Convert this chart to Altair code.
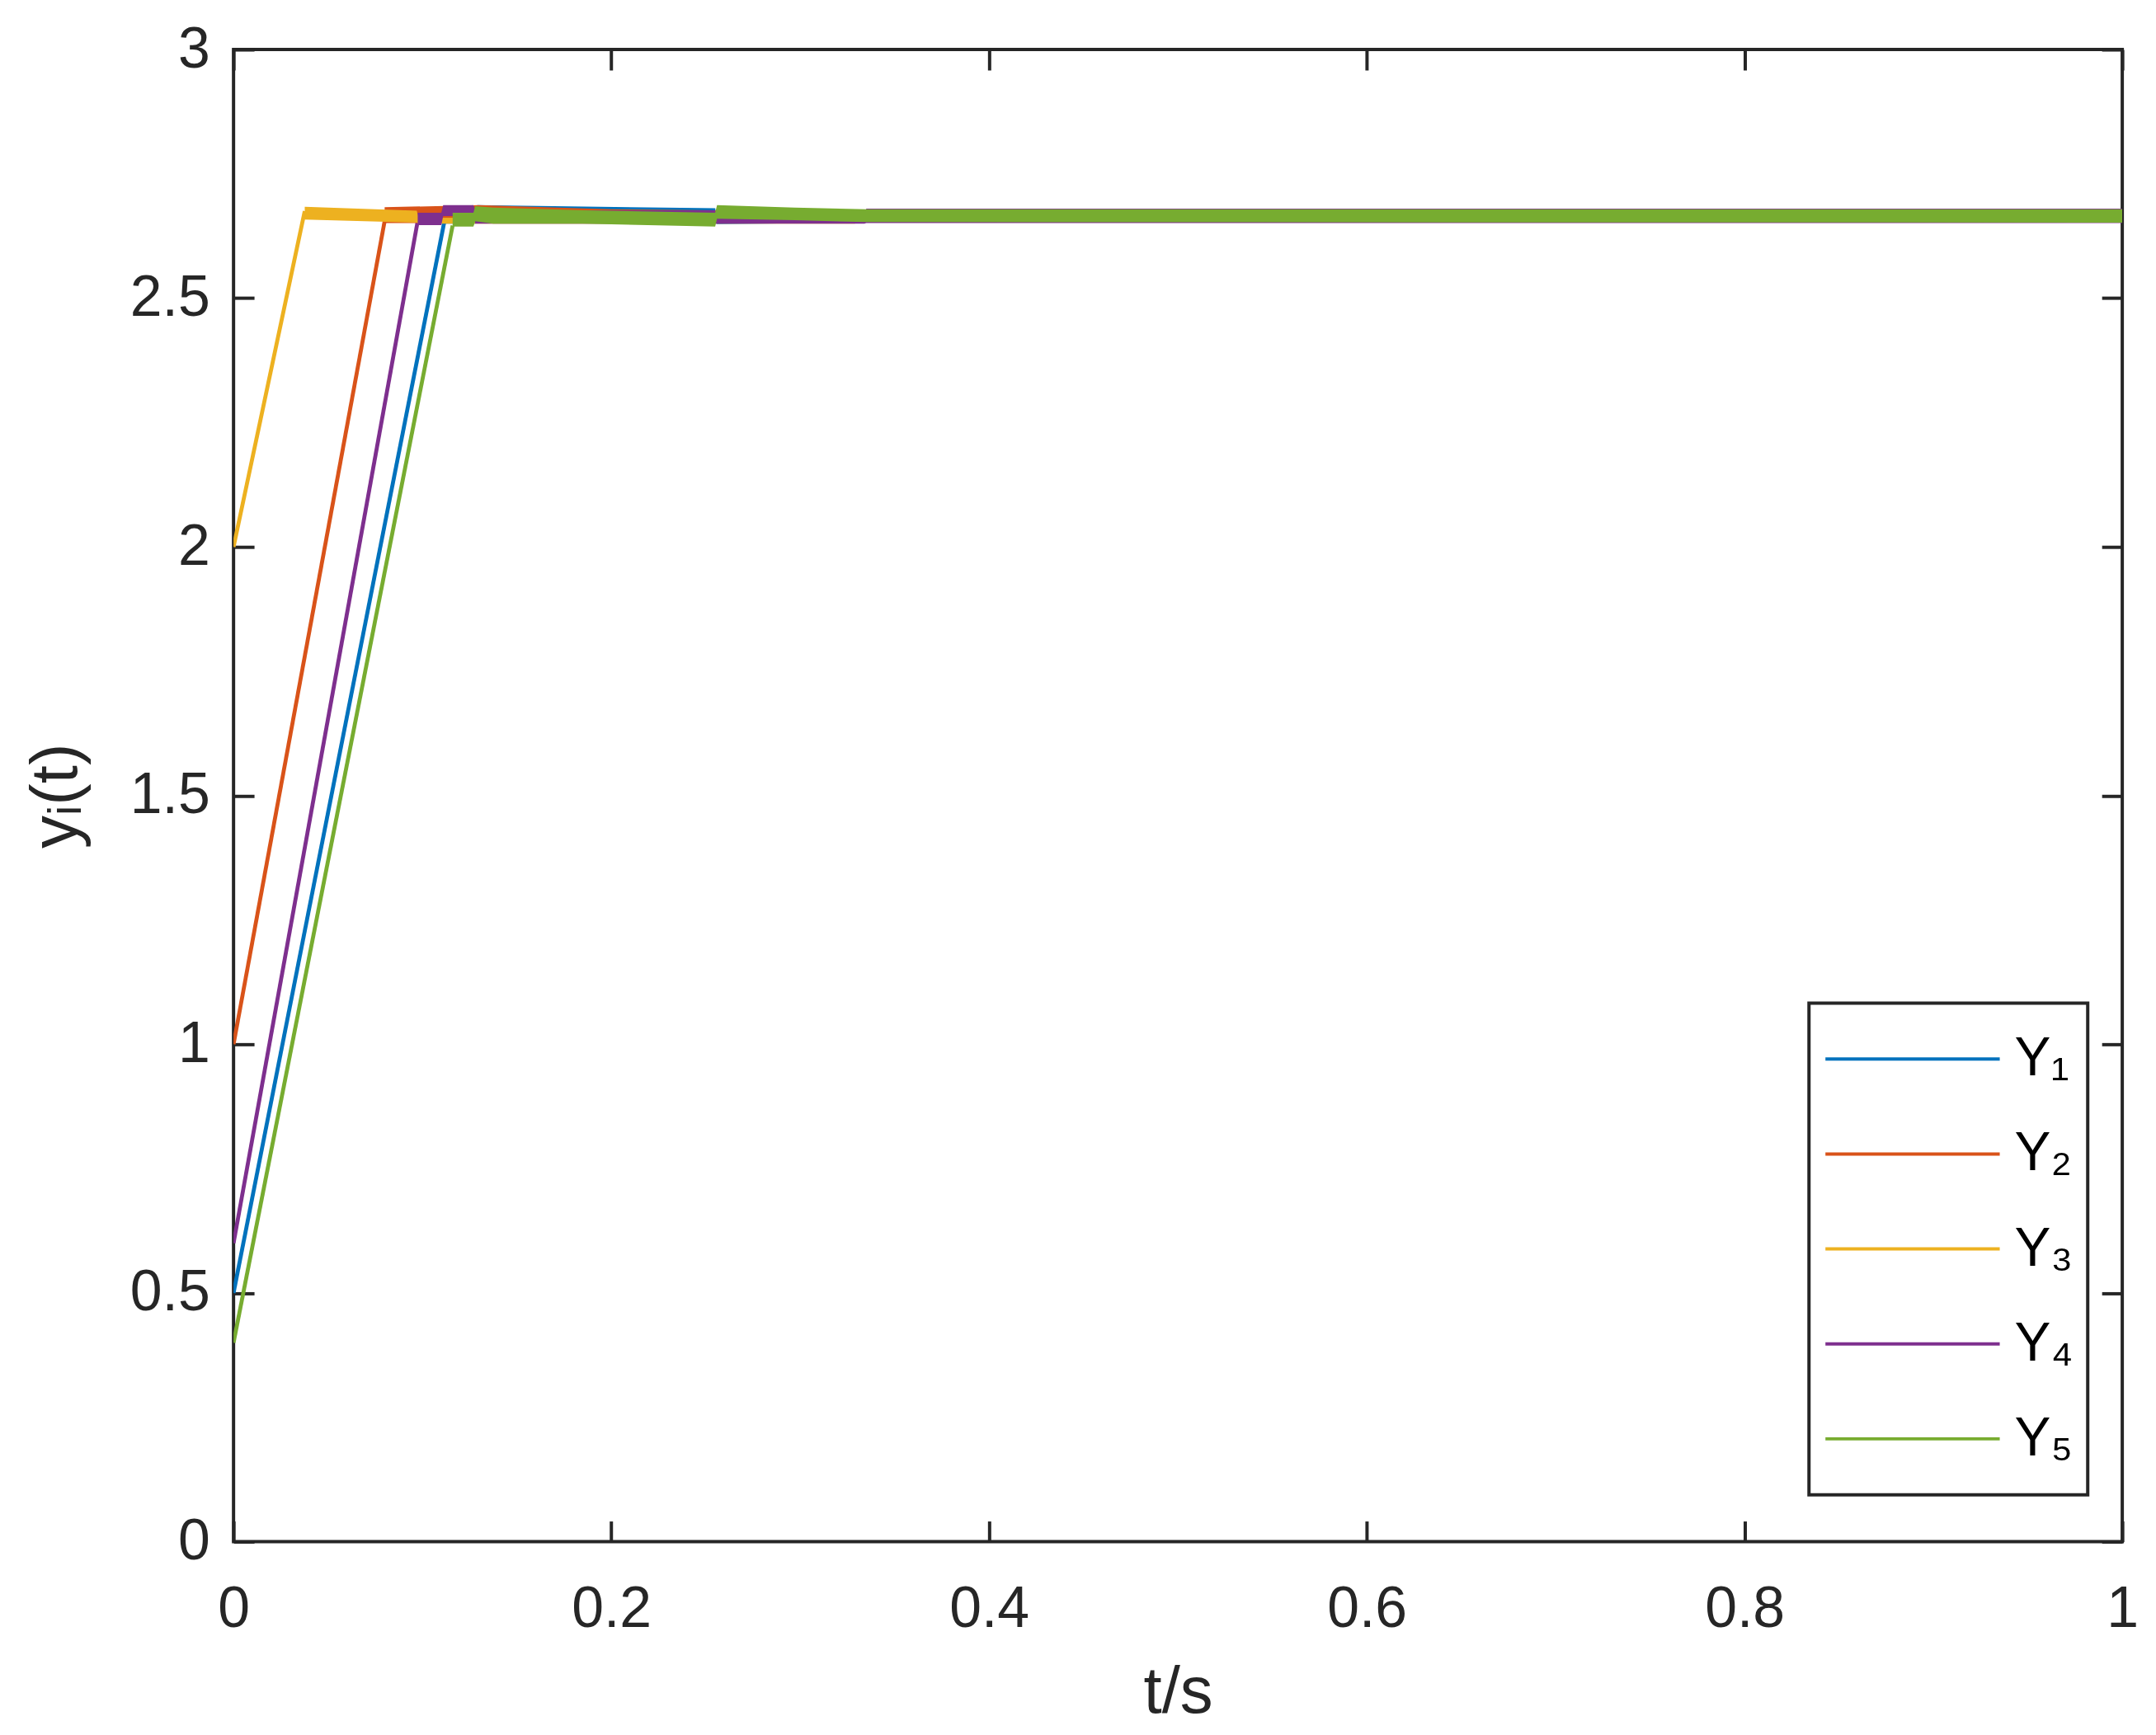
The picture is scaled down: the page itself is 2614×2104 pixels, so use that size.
import altair as alt
import pandas as pd

# ---------------- data ----------------
series_names = ["Y\u2081", "Y\u2082", "Y\u2083", "Y\u2084", "Y\u2085"]
series_colors = ["#0072BD", "#D95319", "#EDB120", "#7E2F8E", "#77AC30"]

# linear rise from the initial value to the consensus band
start_t = [0.0, 0.0, 0.0, 0.0, 0.0]
start_y = [0.50, 1.00, 2.00, 0.60, 0.40]
reach_t = [0.1115, 0.080, 0.0377, 0.0975, 0.116]
reach_y = [2.652, 2.655, 2.675, 2.655, 2.646]

# chattering band (lower / upper envelope) after reaching consensus
y1_band_t = [0.1115, 0.128, 0.129, 0.255, 0.256, 0.335, 1.0]
y1_band_lo = [2.650, 2.650, 2.651, 2.651, 2.649, 2.652, 2.652]
y1_band_hi = [2.660, 2.660, 2.687, 2.681, 2.662, 2.678, 2.678]

y2_band_t = [0.080, 0.130, 0.200, 0.255, 0.256, 1.0]
y2_band_lo = [2.651, 2.651, 2.651, 2.651, 2.652, 2.652]
y2_band_hi = [2.683, 2.687, 2.679, 2.677, 2.675, 2.675]

y3_band_t = [0.0377, 0.097, 0.098, 0.329, 0.330, 1.0]
y3_band_lo = [2.658, 2.652, 2.650, 2.650, 2.652, 2.652]
y3_band_hi = [2.684, 2.676, 2.662, 2.660, 2.678, 2.678]

y4_band_t = [0.0975, 0.110, 0.111, 0.127, 0.128, 0.255, 0.256, 0.334, 0.335, 1.0]
y4_band_lo = [2.647, 2.647, 2.665, 2.665, 2.650, 2.650, 2.650, 2.650, 2.651, 2.651]
y4_band_hi = [2.672, 2.672, 2.687, 2.687, 2.677, 2.677, 2.663, 2.663, 2.680, 2.680]

y5_band_t = [0.116, 0.127, 0.128, 0.1376, 0.185, 0.255, 0.256, 0.297, 0.335, 1.0]
y5_band_lo = [2.644, 2.644, 2.655, 2.650, 2.650, 2.644, 2.660, 2.657, 2.653, 2.652]
y5_band_hi = [2.672, 2.672, 2.685, 2.682, 2.677, 2.672, 2.687, 2.682, 2.679, 2.679]

x_ticks = [0, 0.2, 0.4, 0.6, 0.8, 1.0]
y_ticks = [0, 0.5, 1, 1.5, 2, 2.5, 3]

# ---------------- tables ----------------
ramp_rows = []
for i, name in enumerate(series_names):
    ramp_rows.append({"series": name, "t": start_t[i], "y": start_y[i]})
    ramp_rows.append({"series": name, "t": reach_t[i], "y": reach_y[i]})
ramp_df = pd.DataFrame(ramp_rows)

band_lists = [
    (y1_band_t, y1_band_lo, y1_band_hi),
    (y2_band_t, y2_band_lo, y2_band_hi),
    (y3_band_t, y3_band_lo, y3_band_hi),
    (y4_band_t, y4_band_lo, y4_band_hi),
    (y5_band_t, y5_band_lo, y5_band_hi),
]
band_rows = []
for name, (ts, los, his) in zip(series_names, band_lists):
    for t, lo, hi in zip(ts, los, his):
        band_rows.append({"series": name, "t": t, "lo": lo, "hi": hi})
band_df = pd.DataFrame(band_rows)

# ---------------- styling ----------------
FONT = "Liberation Sans"
DARK = "#262626"
TICK_LEN = 25

xscale = alt.Scale(domain=[0, 1], nice=False, zero=False)
yscale = alt.Scale(domain=[0, 3], nice=False, zero=False)
cscale = alt.Scale(domain=series_names, range=series_colors)


def tick_axis(orient, values):
    return alt.Axis(orient=orient, values=values, labels=False, domain=False,
                    ticks=True, tickSize=TICK_LEN, tickWidth=4, tickColor=DARK,
                    offset=-TICK_LEN, title=None, grid=False)


main_x_axis = alt.Axis(orient="bottom", values=x_ticks, format="~g", ticks=False,
                       domain=False, grid=False, labelFontSize=70, labelFont=FONT,
                       labelColor=DARK, labelPadding=48, title="t/s",
                       titleFontSize=80, titleFont=FONT, titleColor=DARK,
                       titleFontWeight="normal", titlePadding=28,
                       labelFlush=False)
main_y_axis = alt.Axis(orient="left", values=y_ticks, format="~g", ticks=False,
                       domain=False, grid=False, labelFontSize=70, labelFont=FONT,
                       labelColor=DARK, labelPadding=29, title="y\u1d62(t)",
                       titleFontSize=80, titleFont=FONT, titleColor=DARK,
                       titleFontWeight="normal", titlePadding=48,
                       labelFlush=False)

legend = alt.Legend(orient="none", legendX=1916, legendY=1160, title=None,
                    strokeColor=DARK, fillColor="white",
                    padding=18, symbolType="stroke", symbolSize=44944,
                    symbolStrokeWidth=4, clipHeight=100, rowPadding=15.5,
                    labelFontSize=66, labelFont=FONT, labelColor="black",
                    labelOffset=16, symbolOffset=0)

ramps = alt.Chart(ramp_df).mark_line(strokeWidth=4.8, clip=True).encode(
    x=alt.X("t:Q", scale=xscale, axis=main_x_axis),
    y=alt.Y("y:Q", scale=yscale, axis=main_y_axis),
    color=alt.Color("series:N", scale=cscale, legend=legend,
                    sort=series_names),
)

bands = alt.Chart(band_df).mark_area(opacity=1, interpolate="linear",
                                     clip=True).encode(
    x=alt.X("t:Q", scale=xscale, axis=tick_axis("bottom", x_ticks)),
    y=alt.Y("lo:Q", scale=yscale, stack=None, axis=tick_axis("left", y_ticks)),
    y2="hi:Q",
    color=alt.Color("series:N", scale=cscale, legend=None, sort=series_names),
)

frame_ticks = alt.Chart(ramp_df).mark_point(opacity=0).encode(
    x=alt.X("t:Q", scale=xscale, axis=tick_axis("top", x_ticks)),
    y=alt.Y("y:Q", scale=yscale, axis=tick_axis("right", y_ticks)),
)

chart = alt.layer(ramps, bands, frame_ticks).resolve_axis(
    x="independent", y="independent"
).properties(
    width=2297, height=1815,
    autosize=alt.AutoSizeParams(type="none"),
    padding={"left": 276, "top": 49, "right": 33, "bottom": 232},
    background="white",
).configure_view(
    stroke=DARK, strokeWidth=4
).configure_legend(
    strokeWidth=4
)

chart.save("out.html", embed_options={"renderer": "svg", "actions": False})
